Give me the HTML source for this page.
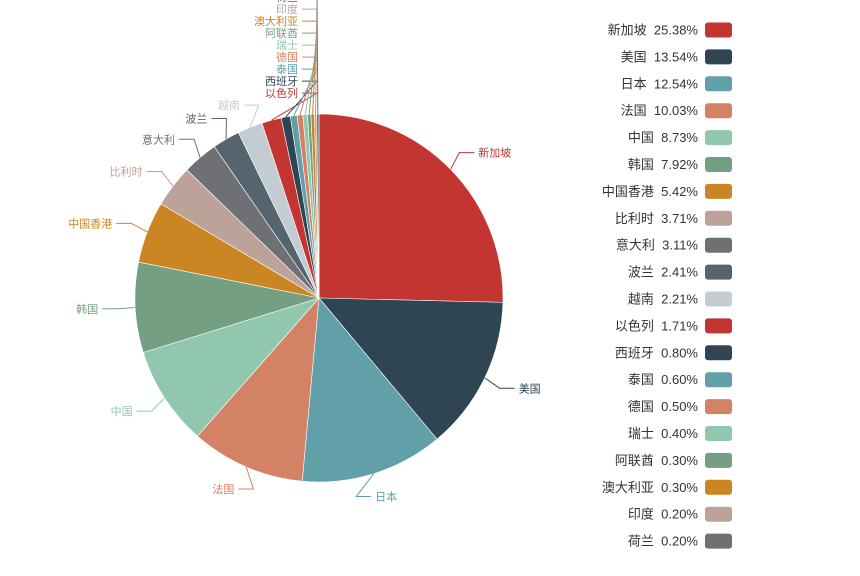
<!DOCTYPE html>
<html><head><meta charset="utf-8">
<style>
html,body{margin:0;padding:0;background:#fff;}
body{width:860px;height:571px;overflow:hidden;font-family:"Liberation Sans","Noto Sans CJK SC",sans-serif;}
</style></head>
<body>
<svg id="chart" width="860" height="571" viewBox="0 0 860 571" xmlns="http://www.w3.org/2000/svg"></svg>
<script>
const categories = ["新加坡","美国","日本","法国","中国","韩国","中国香港","比利时","意大利","波兰","越南","以色列","西班牙","泰国","德国","瑞士","阿联酋","澳大利亚","印度","荷兰"];
const values = [25.38,13.54,12.54,10.03,8.73,7.92,5.42,3.71,3.11,2.41,2.21,1.71,0.80,0.60,0.50,0.40,0.30,0.30,0.20,0.20];
const legendPct = ["25.38%","13.54%","12.54%","10.03%","8.73%","7.92%","5.42%","3.71%","3.11%","2.41%","2.21%","1.71%","0.80%","0.60%","0.50%","0.40%","0.30%","0.30%","0.20%","0.20%"];
const palette = ["#c23531","#2f4554","#61a0a8","#d48265","#91c7ae","#749f83","#ca8622","#bda29a","#6e7074","#546570","#c4ccd3"];

const svg = document.getElementById('chart');
const NS = "http://www.w3.org/2000/svg";
const cx = 319, cy = 298, R = 184;
function mk(tag, attrs){const e=document.createElementNS(NS,tag);for(const k in attrs)e.setAttribute(k,attrs[k]);return e;}
const total = values.reduce((a,b)=>a+b,0);
function pt(a, r){return [cx + r*Math.sin(a), cy - r*Math.cos(a)];}

const slicesG = mk('g',{});


svg.appendChild(slicesG);
const labelsG = mk('g',{});


svg.appendChild(labelsG);

let acc = 0;
const labels = [];
values.forEach((v,i)=>{
  const a0 = acc/total*2*Math.PI; acc += v;
  const a1 = acc/total*2*Math.PI;
  const [x0,y0]=pt(a0,R),[x1,y1]=pt(a1,R);
  const large = (a1-a0)>Math.PI?1:0;
  const p = mk('path',{d:`M${cx},${cy} L${x0},${y0} A${R},${R} 0 ${large} 1 ${x1},${y1} Z`,fill:palette[i%palette.length],stroke:'#fff','stroke-width':0.6});
  
  
  slicesG.appendChild(p);
  const am=(a0+a1)/2;
  labels.push({i, am, right: Math.sin(am)>=0});
});

// layout labels: y from angle, then resolve overlaps (push upward)
const LR = R+18;
labels.forEach(l=>{ l.y = cy - (R+24)*Math.cos(l.am); });
function resolve(group){
  group.sort((a,b)=>b.y-a.y);
  for(let k=1;k<group.length;k++){
    if(group[k-1].y - group[k].y < 12) group[k].y = group[k-1].y - 12;
  }
}
resolve(labels.filter(l=>!l.right));
resolve(labels.filter(l=>l.right));
labels.forEach(l=>{
  const i=l.i, col=palette[i%palette.length];
  const [sx,sy]=pt(l.am,R);
  const [ex0,ey0]=pt(l.am,R+14);
  const dy=l.y-cy;
  let ex = Math.abs(dy)<LR ? cx + (l.right?1:-1)*Math.sqrt(LR*LR-dy*dy) : cx;
  if(!l.right && ex>cx-2) ex=cx-2;
  const ey=l.y;
  const hx = ex + (l.right?15:-15);
  const line = mk('polyline',{points:`${sx},${sy} ${ex},${ey} ${hx},${ey}`,fill:'none',stroke:col,'stroke-width':1});
  
  
  labelsG.appendChild(line);
  const t = mk('text',{x:hx+(l.right?4:-4),y:ey+4,'font-size':11,fill:col,'text-anchor':l.right?'start':'end'});
  t.textContent=categories[i];
  
  
  labelsG.appendChild(t);
});

// legend
const legG = mk('g',{});


svg.appendChild(legG);
categories.forEach((c,i)=>{
  const y = 30 + i*26.9;
  const g = mk('g',{});
  
  
  const t = mk('text',{x:698,y:y+4.5,'font-size':13,fill:'#333','text-anchor':'end'});
  t.textContent = c + '  ' + legendPct[i];
  t.setAttribute('xml:space','preserve');
  t.setAttribute('style','white-space:pre');
  
  
  const r = mk('rect',{x:705,y:y-7.5,width:27,height:15,rx:3,fill:palette[i%palette.length]});
  
  
  g.appendChild(t); g.appendChild(r); legG.appendChild(g);
});
</script>
</body></html>
